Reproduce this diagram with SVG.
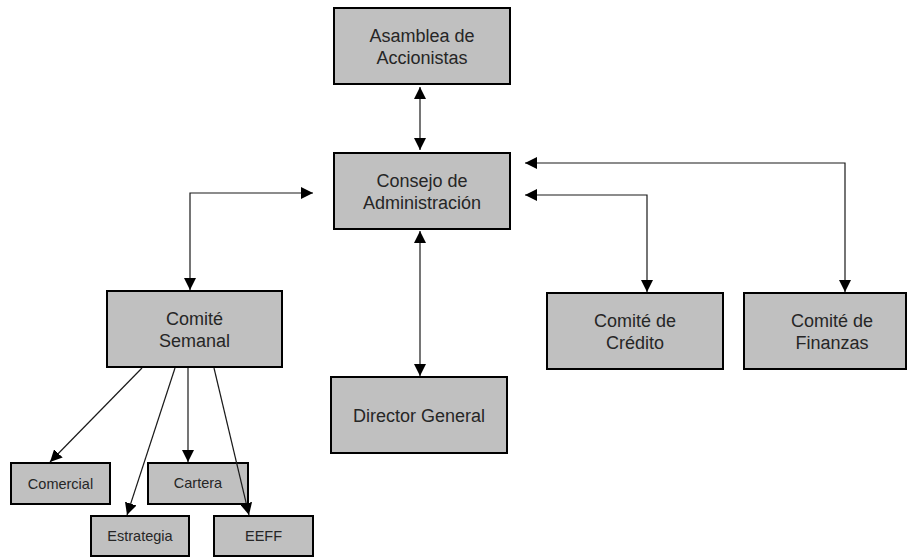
<svg xmlns="http://www.w3.org/2000/svg" width="908" height="557" viewBox="0 0 908 557">
<defs>
<marker id="ah" viewBox="0 0 12 12" markerWidth="12" markerHeight="12" refX="12" refY="6" orient="auto-start-reverse" markerUnits="userSpaceOnUse">
<path d="M0,0 L12,6 L0,12 z" fill="#000"/>
</marker>
<style>
.box{fill:#c0c0c0;stroke:#000;stroke-width:2}
.t{font-family:"Liberation Sans",Arial,sans-serif;font-size:18px;fill:#262626;text-anchor:middle}
.s{font-family:"Liberation Sans",Arial,sans-serif;font-size:14.5px;fill:#262626;text-anchor:middle}
.c{fill:none;stroke:#1a1a1a;stroke-width:1.2}
.e{marker-end:url(#ah)}
.b{marker-start:url(#ah);marker-end:url(#ah)}
</style>
</defs>
<rect width="908" height="557" fill="#fff"/>
<g id="asamblea">
<rect class="box" x="334" y="8" width="176" height="76"/>
<text class="t" x="422" y="41.5">Asamblea de</text>
<text class="t" x="422" y="63.5">Accionistas</text>
</g>
<g id="consejo">
<rect class="box" x="334" y="153" width="176" height="76"/>
<text class="t" x="422" y="186.5">Consejo de</text>
<text class="t" x="422" y="208.5">Administración</text>
</g>
<g id="semanal">
<rect class="box" x="107" y="291" width="175" height="76"/>
<text class="t" x="194.5" y="324.5">Comité</text>
<text class="t" x="194.5" y="346.5">Semanal</text>
</g>
<g id="director">
<rect class="box" x="331" y="377" width="176" height="76"/>
<text class="t" x="419" y="421.5">Director General</text>
</g>
<g id="credito">
<rect class="box" x="547" y="293" width="176" height="76"/>
<text class="t" x="635" y="326.5">Comité de</text>
<text class="t" x="635" y="348.5">Crédito</text>
</g>
<g id="finanzas">
<rect class="box" x="744" y="293" width="162" height="76"/>
<text class="t" x="832" y="326.5">Comité de</text>
<text class="t" x="832" y="348.5">Finanzas</text>
</g>
<g id="comercial">
<rect class="box" x="11" y="463" width="99" height="41"/>
<text class="s" x="60.5" y="488.5">Comercial</text>
</g>
<g id="cartera">
<rect class="box" x="148" y="463" width="100" height="41"/>
<text class="s" x="198" y="487.5">Cartera</text>
</g>
<g id="estrategia">
<rect class="box" x="91" y="516" width="98" height="40"/>
<text class="s" x="140" y="541">Estrategia</text>
</g>
<g id="eeff">
<rect class="box" x="214" y="516" width="99" height="40"/>
<text class="s" x="263.5" y="541">EEFF</text>
</g>
<g id="connectors">
<line class="c b" x1="420" y1="87" x2="420" y2="150"/>
<line class="c b" x1="420" y1="231" x2="420" y2="376"/>
<polyline class="c b" points="313,193 190,193 190,290"/>
<polyline class="c b" points="525,195 647,195 647,292"/>
<polyline class="c b" points="525,163 845,163 845,292"/>
<line class="c e" x1="142" y1="368" x2="50" y2="462"/>
<line class="c e" x1="175" y1="368" x2="127" y2="515"/>
<line class="c e" x1="188" y1="368" x2="188" y2="462"/>
<line class="c e" x1="214" y1="368" x2="249" y2="515"/>
</g>
</svg>
